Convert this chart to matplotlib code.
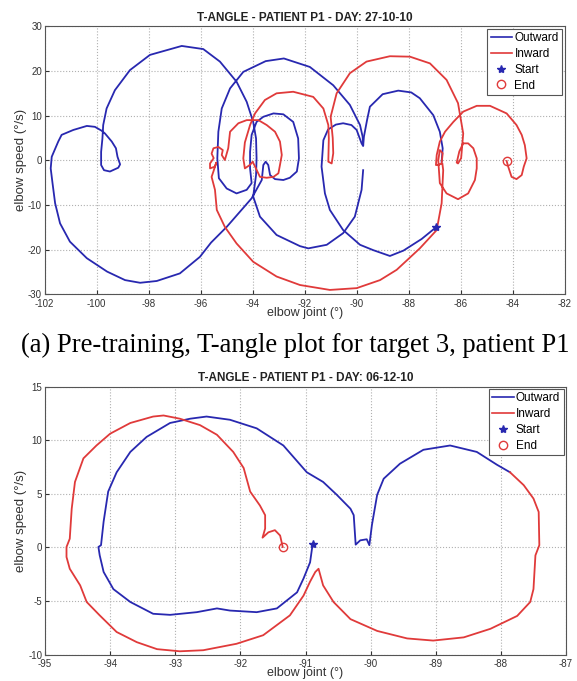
import matplotlib
matplotlib.use("Agg")
import matplotlib.pyplot as plt
from matplotlib.lines import Line2D

plt.rcParams['font.family'] = ['Liberation Sans', 'DejaVu Sans']
plt.rcParams['axes.unicode_minus'] = False

BLUE = '#2828b0'
RED = '#e03a3a'

# ---------- panel (a): day 27-10-10 ----------
# outward, start + right loops
a_out1_x = [-86.95, -87.5, -88.2, -88.72, -89.36, -89.87, -90.52, -91.03, -91.22, -91.35, -91.28,
            -91.1, -90.8, -90.52, -90.2, -90.0, -89.81, -89.75, -89.72, -89.6, -89.49, -89.0,
            -88.4, -87.9, -87.57, -87.05, -86.8, -86.69, -86.73]
a_out1_y = [-15.0, -17.6, -20.2, -21.4, -20.1, -18.9, -15.6, -11.1, -7.4, -1.4, 4.5,
            6.9, 8.0, 8.3, 7.9, 6.8, 3.8, 3.2, 5.3, 9.0, 12.0, 14.8,
            15.6, 15.2, 13.9, 10.1, 6.4, 2.7, -0.3]
# outward, big arcs and left spiral
a_out2_x = [-89.75, -89.77, -89.87, -90.26, -90.9, -91.8, -92.8, -93.5, -94.36, -94.87, -95.19,
            -95.32, -95.36, -95.3, -95.0, -94.62, -94.23, -94.04, -94.1, -94.1, -94.04, -93.85,
            -93.59, -93.2, -92.82, -92.44, -92.25, -92.22, -92.3, -92.57, -92.82, -93.14, -93.33,
            -93.4, -93.5, -93.59, -93.65, -94.04, -95.0, -95.6, -96.03, -96.8, -97.69, -98.33,
            -98.91, -99.6, -100.38, -101.03, -101.41, -101.6, -101.7, -101.77, -101.73, -101.48,
            -101.35, -100.9, -100.38, -100.07, -99.8, -99.68, -99.42, -99.26, -99.2, -99.1,
            -99.17, -99.49, -99.72, -99.83, -99.83, -99.78, -99.75, -99.62, -99.3, -98.72,
            -97.95, -96.73, -95.9, -95.26, -94.62, -94.23, -93.98, -93.87, -93.85, -93.87,
            -93.98, -93.72, -93.08, -92.18, -91.86, -91.15, -90.52, -90.07, -89.81, -89.75]
a_out2_y = [3.5, 5.3, 7.9, 12.4, 16.8, 20.9, 22.8, 22.2, 19.8, 16.1, 11.6,
            6.4, 0.45, -4.0, -6.3, -7.4, -6.6, -5.1, -1.8, 1.9, 5.7, 8.6,
            9.75, 10.5, 10.3, 8.6, 4.9, 0.45, -2.5, -3.9, -4.4, -4.2, -3.3,
            -1.05, -0.3, -1.05, -4.4, -8.5, -14.9, -18.4, -21.6, -25.3, -27.0, -27.4,
            -26.8, -24.9, -21.9, -18.2, -14.1, -9.6, -5.1, -1.8, 0.8, 4.2,
            5.7, 6.8, 7.7, 7.5, 6.6, 6.0, 4.2, 2.7, 0.8, -0.9,
            -1.65, -2.5, -2.2, -1.05, 1.9, 4.9, 7.9, 11.6, 15.7, 20.2,
            23.6, 25.6, 24.9, 22.1, 17.6, 13.1, 8.6, 4.9, 0.45, -3.3,
            -8.1, -12.6, -16.7, -19.2, -19.7, -18.9, -16.3, -12.6, -6.6, -2.2]
a_start = (-86.95, -15.0)

# inward
a_in_x = [-84.23, -84.17, -84.04, -83.85, -83.65, -83.57, -83.46, -83.53, -83.65, -83.85, -84.23,
          -84.87, -85.38, -85.9, -86.28, -86.6, -86.8, -86.92, -86.95, -86.86, -86.73, -86.69,
          -86.8, -86.86, -86.8, -86.54, -86.1, -85.71, -85.45, -85.38, -85.38, -85.51, -85.71,
          -85.9, -86.05, -86.15, -86.1, -85.98, -85.9, -86.1, -86.54, -87.18, -87.95, -88.72,
          -89.62, -90.26, -90.77, -91.0, -90.92, -90.9, -90.96, -91.09, -91.07, -91.09, -91.28,
          -91.67, -92.44, -93.08, -93.53, -93.91, -94.1, -94.3, -94.36, -94.3, -94.1, -94.0,
          -93.9, -93.72, -93.46, -93.2, -93.01, -92.95, -92.88, -92.95, -93.14, -93.46, -93.78,
          -94.23, -94.55, -94.87, -94.94, -95.07, -95.19, -95.15, -95.32, -95.51, -95.58, -95.5,
          -95.64, -95.64, -95.45, -95.4, -95.51, -95.58, -95.45, -95.38, -95.07, -94.62, -93.98,
          -93.08, -92.18, -91.03, -90.0, -89.1, -88.46, -87.57, -86.92, -86.73, -86.67, -86.7]
a_in_y = [-0.15, -1.4, -3.7, -4.2, -3.3, -1.4, 0.45, 3.4, 5.7, 7.9, 10.5,
          12.2, 12.2, 10.9, 8.6, 6.4, 4.2, 1.2, -1.05, -1.05, -0.7, 1.6,
          2.3, 0.0, -5.1, -7.4, -8.7, -7.4, -4.4, -1.8, 0.45, 2.7, 3.8,
          3.8, 2.0, -0.5, -0.7, 0.5, 6.0, 12.8, 18.0, 21.7, 23.2, 23.3,
          22.1, 19.5, 15.0, 9.75, 5.0, 1.6, -0.7, -0.3, 4.9, 7.9, 11.6,
          14.2, 15.35, 15.0, 13.5, 10.5, 7.9, 4.0, 0.45, -1.8, -1.0, -0.3,
          -1.5, -3.7, -3.9, -3.7, -2.9, -1.05, 1.2, 4.2, 6.4, 7.9, 9.0,
          9.0, 8.3, 6.4, 2.7, 0.07, 1.2, 2.3, 3.0, 2.7, 1.5, 0.5,
          -0.7, -1.8, -1.4, -0.5, -2.5, -3.7, -6.6, -11.1, -14.9, -18.6, -22.7,
          -26.0, -27.9, -29.0, -28.6, -26.8, -24.5, -19.7, -15.6, -9.6, -2.2, -0.8]
a_end = (-84.23, -0.15)

# ---------- panel (b): day 06-12-10 ----------
b_out_x = [-90.88, -90.9, -90.93, -91.03, -91.13, -91.44, -91.75, -92.16, -92.36, -92.67, -93.08,
           -93.34, -93.69, -93.95, -94.1, -94.16, -94.18, -94.14, -94.1, -94.03, -93.9, -93.69,
           -93.44, -93.08, -92.77, -92.52, -92.16, -91.75, -91.34, -90.98, -90.73, -90.52, -90.31,
           -90.26, -90.23, -90.16, -90.06, -90.02, -89.98, -89.9, -89.8, -89.55, -89.19, -88.78,
           -88.37, -88.06, -87.86]
b_out_y = [0.35, -0.1, -1.4, -2.9, -4.2, -5.7, -6.05, -5.9, -5.7, -6.05, -6.3,
           -6.2, -5.1, -3.9, -2.3, -0.75, 0.03, 0.2, 2.4, 5.2, 7.0, 8.9,
           10.3, 11.6, 12.0, 12.2, 11.9, 11.1, 9.5, 7.0, 6.1, 4.9, 3.6,
           3.0, 0.25, 0.65, 0.75, 0.2, 2.1, 4.9, 6.4, 7.8, 9.1, 9.5,
           8.9, 7.7, 7.0]
b_in_x = [-87.86, -87.65, -87.5, -87.42, -87.41, -87.47, -87.5, -87.55, -87.75, -88.16, -88.57,
          -89.04, -89.44, -89.9, -90.31, -90.57, -90.73, -90.8, -90.85, -90.93, -91.03, -91.24,
          -91.65, -92.06, -92.57, -92.93, -93.28, -93.59, -93.9, -94.16, -94.36, -94.46, -94.62,
          -94.67, -94.67, -94.62, -94.59, -94.54, -94.41, -94.21, -94.0, -93.69, -93.34, -93.18,
          -92.93, -92.62, -92.36, -92.11, -91.95, -91.85, -91.7, -91.62, -91.62, -91.66, -91.57,
          -91.47, -91.39, -91.35]
b_in_y = [7.0, 5.8, 4.55, 3.3, 0.2, -0.75, -3.9, -5.1, -6.4, -7.6, -8.4,
          -8.7, -8.5, -7.8, -6.7, -5.1, -3.55, -2.0, -2.3, -3.2, -4.5, -6.35,
          -8.2, -9.0, -9.6, -9.7, -9.5, -8.85, -7.9, -6.35, -5.1, -3.55, -2.0,
          -0.9, 0.03, 0.8, 3.6, 6.1, 8.3, 9.5, 10.6, 11.6, 12.2, 12.3,
          12.0, 11.4, 10.5, 8.9, 7.4, 5.2, 3.9, 3.0, 1.75, 0.9, 1.4,
          1.6, 1.1, 0.03]
b_start = (-90.88, 0.35)
b_end = (-91.35, 0.0)

fig = plt.figure(figsize=(5.77, 6.81), dpi=100)
ax1 = fig.add_axes([0.0775, 0.5677, 0.901, 0.3937])
ax2 = fig.add_axes([0.078, 0.0389, 0.903, 0.3935])


def style(ax, title, xlim, ylim, xticks, yticks):
    ax.set_xlim(xlim)
    ax.set_ylim(ylim)
    ax.set_xticks(xticks)
    ax.set_yticks(yticks)
    ax.grid(True, linestyle=':', color='#b0b0b0', linewidth=0.8)
    ax.tick_params(direction='in', labelsize=7, colors='#333333', length=3, pad=2)
    ax.tick_params(axis='x', pad=3)
    for s in ax.spines.values():
        s.set_color('#555555')
        s.set_linewidth(0.8)
    ax.set_title(title, fontsize=8.5, fontweight='bold', color='#222222', pad=4)
    ax.set_xlabel('elbow joint (°)', fontsize=9, color='#333333', labelpad=-1)
    ax.set_ylabel('elbow speed (°/s)', fontsize=9.5, color='#333333', labelpad=1)


def legend(ax):
    handles = [Line2D([], [], color=BLUE, lw=1.2),
               Line2D([], [], color=RED, lw=1.2),
               Line2D([], [], color=BLUE, marker='*', ls='none', ms=6),
               Line2D([], [], color=RED, marker='o', mfc='none', ls='none', ms=6)]
    leg = ax.legend(handles, ['Outward', 'Inward', 'Start', 'End'], loc='upper right',
                    fontsize=8.5, handlelength=1.8, handletextpad=0.2, labelspacing=0.32,
                    borderpad=0.3, fancybox=False, framealpha=1, borderaxespad=0.2)
    leg.get_frame().set_edgecolor('#555555')
    leg.get_frame().set_linewidth(0.8)


style(ax1, 'T-ANGLE - PATIENT P1 - DAY: 27-10-10', (-102, -82), (-30, 30),
      range(-102, -81, 2), range(-30, 31, 10))
ax1.plot(a_out1_x, a_out1_y, color=BLUE, lw=1.3)
ax1.plot(a_out2_x, a_out2_y, color=BLUE, lw=1.3)
ax1.plot(a_in_x, a_in_y, color=RED, lw=1.3)
ax1.plot(*a_start, marker='*', color=BLUE, ms=6)
ax1.plot(*a_end, marker='o', mfc='none', color=RED, ms=6)
legend(ax1)

style(ax2, 'T-ANGLE - PATIENT P1 - DAY: 06-12-10', (-95, -87), (-10, 15),
      range(-95, -86), range(-10, 16, 5))
ax2.plot(b_out_x, b_out_y, color=BLUE, lw=1.3)
ax2.plot(b_in_x, b_in_y, color=RED, lw=1.3)
ax2.plot(*b_start, marker='*', color=BLUE, ms=6)
ax2.plot(*b_end, marker='o', mfc='none', color=RED, ms=6)
legend(ax2)

fig.text(0.511, 0.493, '(a) Pre-training, T-angle plot for target 3, patient P1',
         ha='center', va='center', fontsize=19.2, family='Liberation Serif')

fig.savefig('out.png', dpi=100)
